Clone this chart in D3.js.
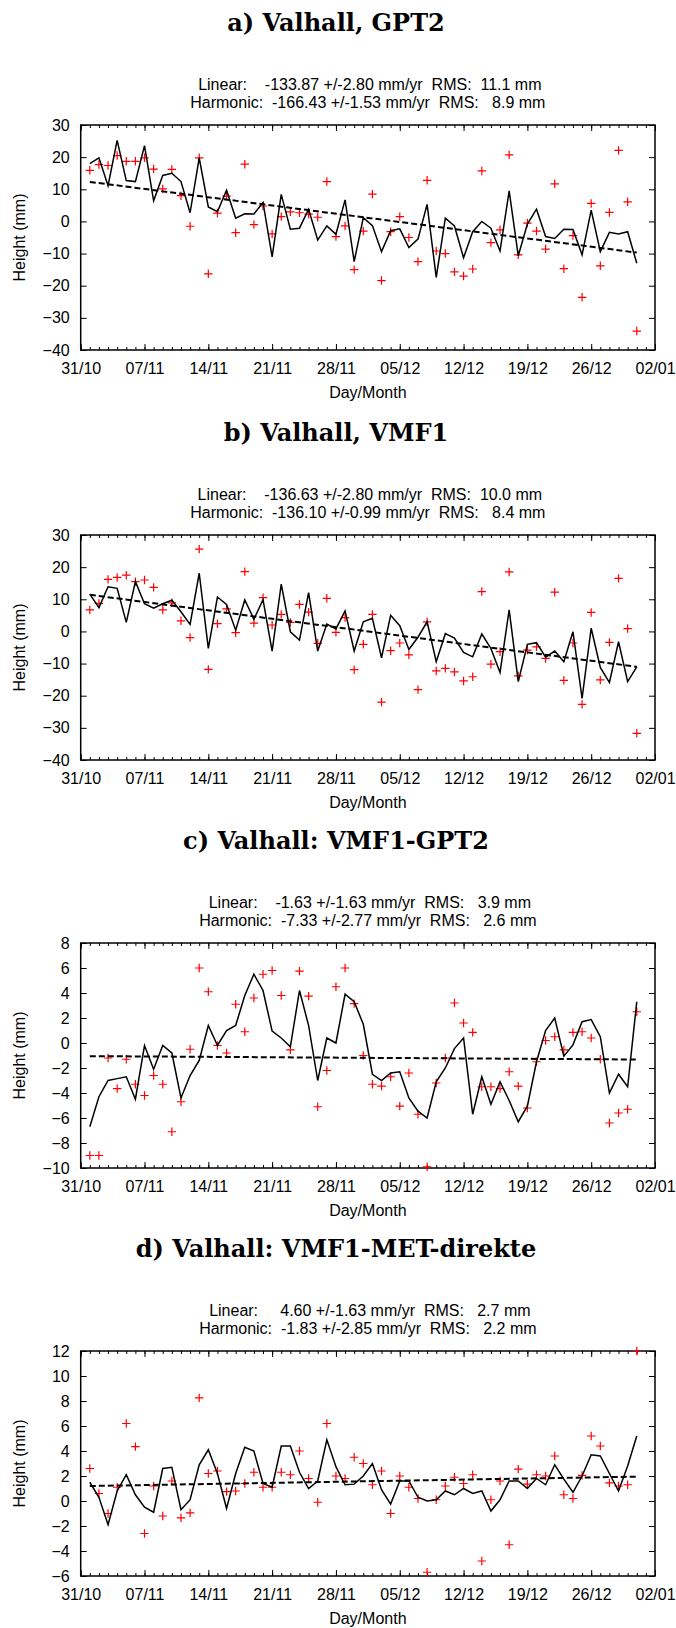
<!DOCTYPE html>
<html>
<head>
<meta charset="utf-8">
<script src="https://cdn.jsdelivr.net/npm/d3@7"></script>
<style>
  body { margin: 0; background: #fff; }
  svg text { font-family: "Liberation Sans", Arial, Helvetica, sans-serif; fill: #000; }
</style>
</head>
<body>
<svg id="chart" width="676" height="1628"></svg>
<script>
// Day offsets from 31/10 and the labels shown on the x axis
const dayTicks = [0, 7, 14, 21, 28, 35, 42, 49, 56, 63];
const dayTickLabels = ["31/10", "07/11", "14/11", "21/11", "28/11", "05/12", "12/12", "19/12", "26/12", "02/01"];
const days = d3.range(1, 62); // 01/11 .. 31/12

const panelTitles = ["a) Valhall, GPT2", "b) Valhall, VMF1", "c) Valhall: VMF1-GPT2", "d) Valhall: VMF1-MET-direkte"];
const linearLines = [
  "Linear:    -133.87 +/-2.80 mm/yr  RMS:  11.1 mm",
  "Linear:    -136.63 +/-2.80 mm/yr  RMS:  10.0 mm",
  "Linear:    -1.63 +/-1.63 mm/yr  RMS:   3.9 mm",
  "Linear:     4.60 +/-1.63 mm/yr  RMS:   2.7 mm"
];
const harmonicLines = [
  "Harmonic:  -166.43 +/-1.53 mm/yr  RMS:   8.9 mm",
  "Harmonic:  -136.10 +/-0.99 mm/yr  RMS:   8.4 mm",
  "Harmonic:  -7.33 +/-2.77 mm/yr  RMS:   2.6 mm",
  "Harmonic:  -1.83 +/-2.85 mm/yr  RMS:   2.2 mm"
];

// a) GPT2: daily height (line) and single-solution points (crosses), mm
const gpt2Line = [18.0, 19.8, 11.1, 25.2, 12.7, 12.4, 23.6, 6.4, 14.3, 15.0,
  12.4, 2.7, 19.8, 4.5, 3.0, 9.7, 1.0, 2.4, 2.3, 5.9,
  -11.0, 8.4, -2.4, -2.1, 3.8, -5.8, -1.4, -4.0, 6.7, -12.5,
  1.2, -1.3, -9.4, -2.9, -2.3, -8.1, -5.5, 5.3, -17.4, 1.0,
  -1.4, -11.3, -3.2, 0.0, -2.1, -9.2, 9.5, -10.7, -0.8, 3.8,
  -4.7, -5.3, -2.4, -2.5, -10.4, 3.5, -9.4, -3.4, -3.9, -3.2, -13.0];
const gpt2Points = [15.9, 17.7, 17.4, 20.5, 18.7, 18.7, 19.8, 16.3, 10.1, 16.2,
  8.0, -1.5, 19.8, -16.3, 2.6, 7.9, -3.5, 17.8, -1.0, 4.8,
  -3.9, 1.5, 3.0, 2.7, 2.3, 1.3, 12.4, -4.7, -1.4, -15.0,
  -3.0, 8.5, -18.4, -3.2, 1.5, -5.0, -12.5, 12.8, -9.2, -10.0,
  -15.7, -17.0, -14.8, 15.7, -6.6, -2.6, 20.7, -10.4, -0.5, -3.0,
  -8.6, 11.7, -14.7, -4.4, -23.6, 5.6, -13.8, 2.8, 22.1, 6.1, -34.1];
const gpt2Trend = [12.3, -9.7];

// b) VMF1
const vmf1Line = [11.6, 7.4, 13.9, 13.4, 2.8, 15.5, 8.6, 7.2, 8.6, 9.7,
  6.1, 2.2, 18.1, -5.3, 10.7, 8.4, 0.4, 9.8, 3.8, 9.9,
  -6.1, 14.7, -0.1, -2.7, 12.1, -6.1, 2.3, 0.8, 6.4, -6.1,
  3.0, 4.1, -8.2, 5.0, 1.8, -5.6, -1.8, 3.0, -9.4, -0.7,
  -2.1, -6.5, -7.9, -0.8, -5.3, -12.8, 6.7, -15.6, -4.0, -3.5,
  -8.0, -6.1, -9.4, -0.1, -20.8, 1.0, -11.2, -15.9, -3.2, -15.6, -11.0];
const vmf1Points = [6.7, 8.7, 16.2, 16.8, 17.5, 15.5, 16.0, 13.7, 6.7, 8.9,
  3.3, -1.9, 25.6, -11.8, 2.4, 7.0, -0.4, 18.6, 2.6, 10.5,
  2.0, 5.3, 2.8, 8.4, 6.0, -3.7, 10.3, -0.3, 4.3, -11.9,
  -4.0, 5.3, -22.0, -6.0, -3.6, -7.3, -18.1, 3.0, -12.3, -11.5,
  -12.6, -15.4, -14.1, 12.4, -10.2, -6.3, 18.5, -13.8, -5.8, -4.8,
  -8.4, 12.2, -15.2, -3.6, -22.7, 5.9, -15.1, -3.4, 16.5, 0.9, -31.7];
const vmf1Trend = [11.4, -11.0];

// c) VMF1 - GPT2 difference
const diffGptLine = [-6.7, -4.3, -3.0, -2.85, -2.7, -4.5, -0.2, -2.1, -0.2, -0.8,
  -4.4, -2.6, -1.4, 1.4, -0.2, 1.0, 1.4, 3.8, 5.5, 4.2,
  0.95, 0.4, -0.3, 4.2, 1.4, -3.0, 0.4, 0.0, 3.9, 3.3,
  1.5, -2.5, -3.0, -2.4, -2.3, -4.4, -5.45, -6.0, -3.1, -2.0,
  -0.45, 0.4, -5.7, -2.7, -4.9, -3.1, -4.6, -6.3, -5.05, -1.5,
  1.0, 2.0, -1.05, -0.15, 1.7, 1.87, 0.5, -4.0, -2.5, -3.5, 3.3];
const diffGptPoints = [-9.0, -9.0, -1.2, -3.65, -1.3, -3.3, -4.2, -2.6, -3.3, -7.1,
  -4.7, -0.5, 6.0, 4.1, -0.2, -0.8, 3.1, 0.9, 3.6, 5.5,
  5.8, 3.8, -0.55, 5.75, 3.75, -5.1, -2.2, 4.5, 6.0, 3.15,
  -1.0, -3.3, -3.45, -2.7, -5.05, -2.4, -5.7, -9.9, -3.2, -1.2,
  3.2, 1.6, 0.85, -3.5, -3.5, -3.65, -2.3, -3.45, -5.2, -1.5,
  0.2, 0.5, -0.55, 0.85, 0.9, 0.4, -1.3, -6.4, -5.6, -5.3, 2.5];
const diffGptTrend = [-1.05, -1.32];

// d) VMF1 - MET direct difference
const diffMetLine = [1.5, 0.3, -1.9, 0.8, 2.1, 0.5, -0.5, -0.9, 2.6, 2.7,
  -0.7, 0.1, 2.9, 4.1, 2.2, -0.6, 2.2, 4.3, 4.0, 1.4,
  1.1, 4.4, 4.4, 2.3, 1.0, 1.6, 4.9, 2.75, 1.3, 1.35,
  2.0, 3.0, 0.9, -0.25, 1.6, 1.6, 0.3, 0.0, 0.1, 0.8,
  0.5, 1.0, 0.6, 0.8, -0.8, 0.1, 1.6, 1.6, 1.0, 1.8,
  1.3, 2.9, 1.75, 0.7, 2.0, 3.7, 3.6, 2.2, 0.8, 2.8, 5.2];
const diffMetPoints = [2.6, 0.6, -1.0, 1.1, 6.2, 4.35, -2.6, 1.2, -1.2, 1.6,
  -1.35, -0.95, 8.25, 2.2, 2.4, 0.75, 0.8, 1.4, 2.3, 1.1,
  1.1, 2.3, 2.1, 4.0, 1.8, -0.1, 6.2, 2.0, 1.8, 3.5,
  3.0, 1.3, 2.4, -1.0, 2.0, 1.1, 0.2, -5.7, 0.1, 1.2,
  1.9, 1.4, 2.1, -4.8, 0.1, 1.6, -3.5, 2.55, 1.35, 2.1,
  2.0, 3.6, 0.5, 0.2, 2.05, 5.2, 4.4, 1.45, 1.2, 1.3, 12.0];
const diffMetTrend = [1.2, 1.95];

const yDomains = [[-40, 30], [-40, 30], [-10, 8], [-6, 12]];
const yTickSteps = [10, 10, 2, 2];

const panels = [
  { line: gpt2Line, points: gpt2Points, trend: gpt2Trend },
  { line: vmf1Line, points: vmf1Points, trend: vmf1Trend },
  { line: diffGptLine, points: diffGptPoints, trend: diffGptTrend },
  { line: diffMetLine, points: diffMetPoints, trend: diffMetTrend }
];

// ---- layout ----
const plotLeft = 80.7, plotRight = 655, plotHeight = 225;
const plotTops = [125, 535, 943, 1351];
const titleX = 336;
const labelSize = "16px";
const statsSize = "16px";

const svg = d3.select("#chart");
const x = d3.scaleLinear().domain([0, 63]).range([plotLeft, plotRight]);
const midX = (plotLeft + plotRight) / 2;

panels.forEach((p, i) => {
  const top = plotTops[i], bottom = top + plotHeight;
  const [y0, y1] = yDomains[i];
  const y = d3.scaleLinear().domain([y0, y1]).range([bottom, top]);
  const g = svg.append("g");

  // title and fit statistics
  g.append("text").attr("x", titleX).attr("y", top - 94)
    .attr("text-anchor", "middle")
    .style("font-family", "'DejaVu Serif', serif").style("font-weight", "bold").style("font-size", "24px")
    .text(panelTitles[i]);
  g.append("text").attr("x", midX + 2).attr("y", top - 35.5).attr("text-anchor", "middle")
    .style("font-size", statsSize).style("white-space", "pre").attr("xml:space", "preserve")
    .text(linearLines[i]);
  g.append("text").attr("x", midX).attr("y", top - 17.5).attr("text-anchor", "middle")
    .style("font-size", statsSize).style("white-space", "pre").attr("xml:space", "preserve")
    .text(harmonicLines[i]);

  // axes with inward ticks (mirrored on top and right)
  const yTicks = d3.range(y0, y1 + 0.001, yTickSteps[i]);
  const fmt = d3.format("d");
  const minorDays = d3.range(0, 64);

  g.append("g").attr("transform", `translate(${plotLeft},0)`)
    .call(d3.axisLeft(y).tickValues(yTicks).tickFormat(fmt).tickSize(-6).tickPadding(11))
    .call(a => a.select(".domain").remove());
  g.append("g").attr("transform", `translate(${plotRight},0)`)
    .call(d3.axisRight(y).tickValues(yTicks).tickFormat("").tickSize(-6))
    .call(a => a.select(".domain").remove());
  g.append("g").attr("transform", `translate(0,${bottom})`)
    .call(d3.axisBottom(x).tickValues(minorDays).tickFormat("").tickSize(-3))
    .call(a => a.select(".domain").remove());
  g.append("g").attr("transform", `translate(0,${top})`)
    .call(d3.axisTop(x).tickValues(minorDays).tickFormat("").tickSize(-3))
    .call(a => a.select(".domain").remove());
  g.append("g").attr("transform", `translate(0,${bottom})`)
    .call(d3.axisBottom(x).tickValues(dayTicks).tickFormat((d, k) => dayTickLabels[k]).tickSize(-6).tickPadding(13))
    .call(a => a.select(".domain").remove());
  g.append("g").attr("transform", `translate(0,${top})`)
    .call(d3.axisTop(x).tickValues(dayTicks).tickFormat("").tickSize(-6))
    .call(a => a.select(".domain").remove());

  g.selectAll(".tick line").attr("stroke", "#000").attr("stroke-width", 1);
  g.selectAll(".tick text").style("font-size", labelSize).attr("fill", "#000");

  // frame
  g.append("rect").attr("x", plotLeft).attr("y", top)
    .attr("width", plotRight - plotLeft).attr("height", plotHeight)
    .attr("fill", "none").attr("stroke", "#000").attr("stroke-width", 1.5);

  // axis titles
  g.append("text").attr("transform", `translate(25,${(top + bottom) / 2}) rotate(-90)`)
    .attr("text-anchor", "middle").style("font-size", labelSize).text("Height (mm)");
  g.append("text").attr("x", midX).attr("y", bottom + 48).attr("text-anchor", "middle")
    .style("font-size", labelSize).text("Day/Month");

  // single solutions: red crosses
  const s = 4.2;
  g.append("g").selectAll("path").data(days).join("path")
    .attr("d", (d, k) => {
      const cx = x(d), cy = y(p.points[k]);
      return `M${cx - s},${cy}H${cx + s}M${cx},${cy - s}V${cy + s}`;
    })
    .attr("stroke", "#ff0000").attr("stroke-width", 1.2).attr("fill", "none");

  // daily solutions: black line
  g.append("path").datum(days)
    .attr("d", d3.line().x(d => x(d)).y((d, k) => y(p.line[k])))
    .attr("fill", "none").attr("stroke", "#000").attr("stroke-width", 1.5).attr("stroke-linejoin", "miter");

  // linear trend: dashed
  g.append("path").datum([days[0], days[days.length - 1]])
    .attr("d", d3.line().x(d => x(d)).y((d, k) => y(p.trend[k])))
    .attr("fill", "none").attr("stroke", "#000").attr("stroke-width", 2).attr("stroke-dasharray", "6,3");
});
</script>
</body>
</html>
